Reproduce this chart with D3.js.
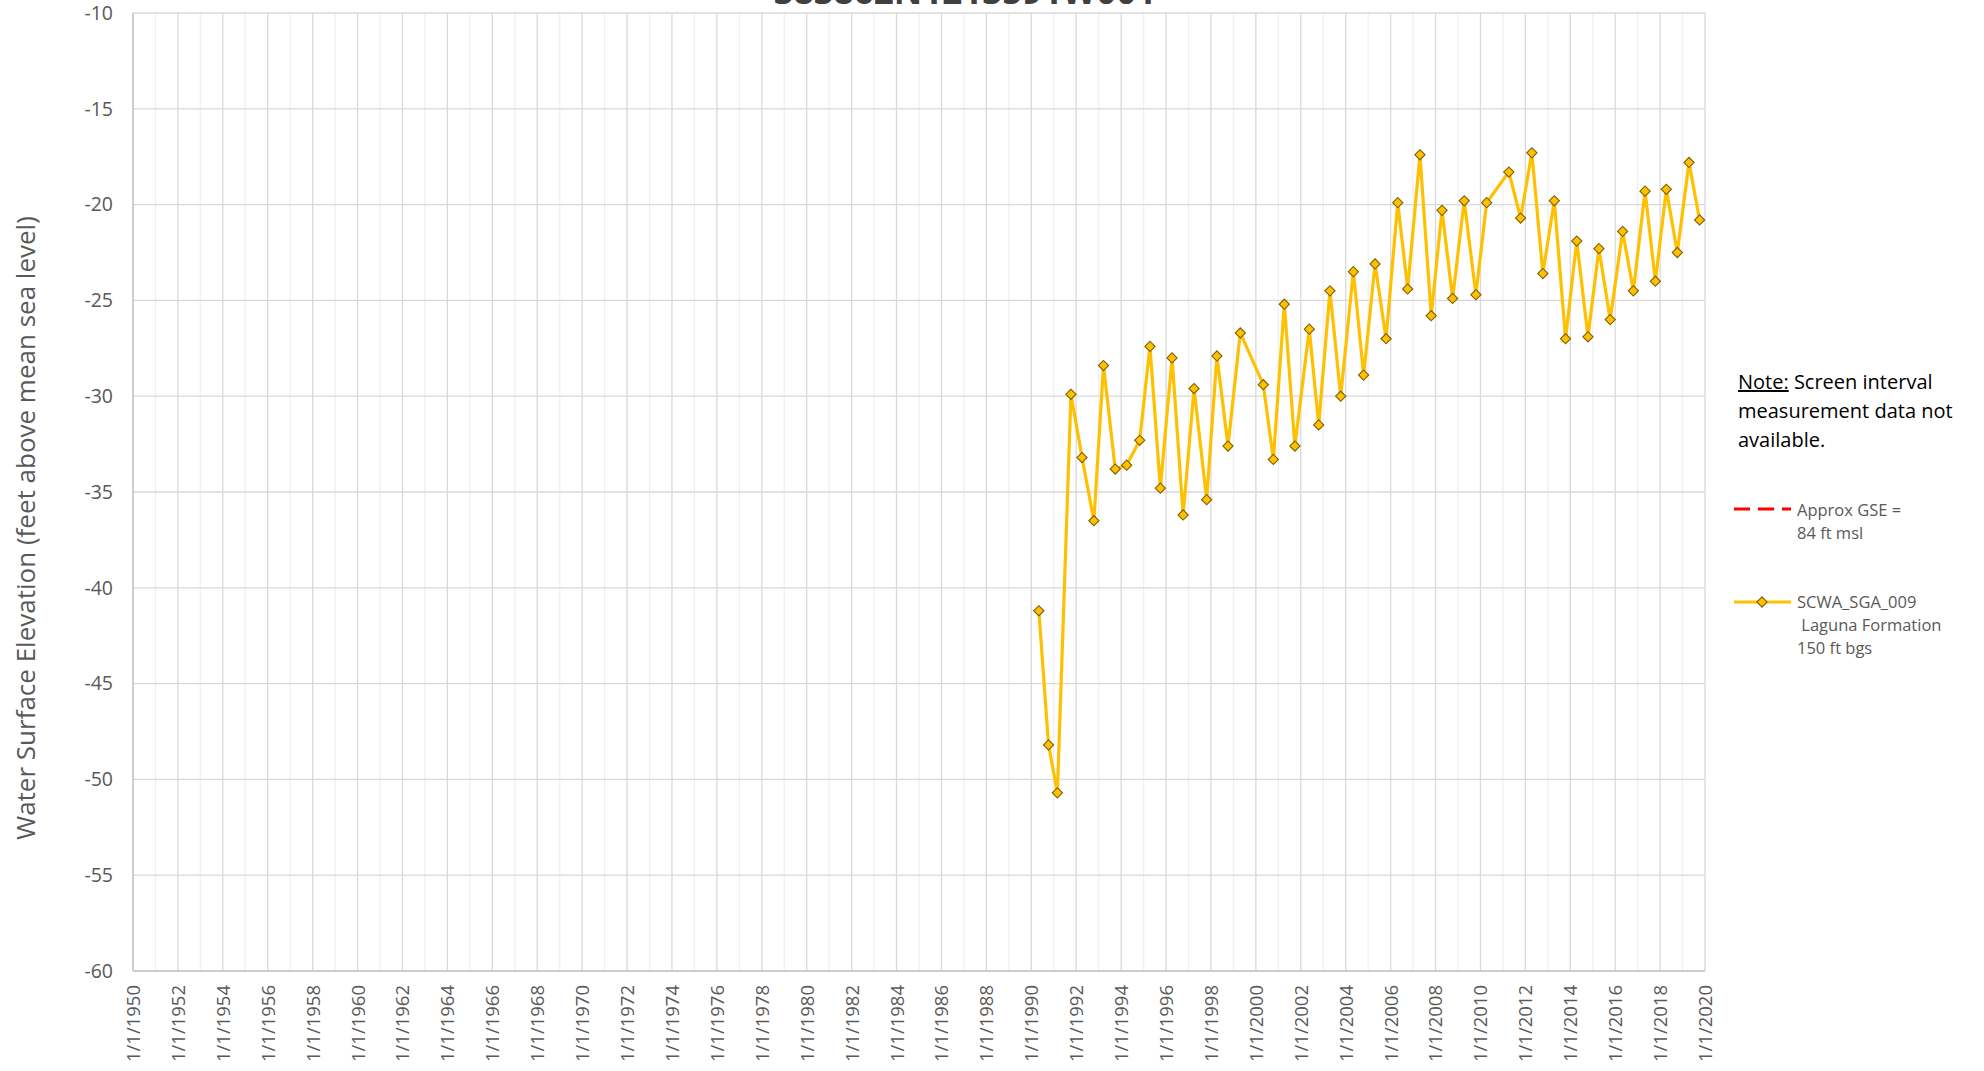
<!DOCTYPE html>
<html>
<head>
<meta charset="utf-8">
<script src="https://cdn.jsdelivr.net/npm/d3@7"></script>
<style>
body { margin: 0; background: #fff; }
svg text { font-family: "Open Sans", sans-serif; }
</style>
</head>
<body>
<div id="chart"></div>
<script>
// chart size
var w = 1984;
var h = 1071;
var plotLeft = 133, plotRight = 1705, plotTop = 13, plotBottom = 971;

// texts
var title = "383862N1213591W001";
var yTitle = "Water Surface Elevation (feet above mean sea level)";
var noteLines = ["Screen interval", "measurement data not", "available."];
var gseLabel = ["Approx GSE =", "84 ft msl"];
var wellLabel = ["SCWA_SGA_009", "\u00a0Laguna Formation", "150 ft bgs"];

// data
var dates = [
  "1990-05-04", "1990-10-08", "1991-03-01", "1991-10-08", "1992-04-05", "1992-10-15",
  "1993-03-20", "1993-09-27", "1994-04-01", "1994-10-30", "1995-04-15", "1995-10-01",
  "1996-04-08", "1996-10-05", "1997-04-01", "1997-10-23", "1998-04-08", "1998-10-05",
  "1999-04-23", "2000-05-01", "2000-10-12", "2001-04-08", "2001-09-27", "2002-05-19",
  "2002-10-19", "2003-04-20", "2003-10-12", "2004-05-05", "2004-10-19", "2005-04-23",
  "2005-10-19", "2006-04-27", "2006-10-05", "2007-04-23", "2007-10-23", "2008-04-16",
  "2008-10-05", "2009-04-12", "2009-10-19", "2010-04-12", "2011-04-08", "2011-10-16",
  "2012-04-16", "2012-10-12", "2013-04-16", "2013-10-16", "2014-04-16", "2014-10-16",
  "2015-04-12", "2015-10-12", "2016-05-01", "2016-10-23", "2017-05-01", "2017-10-16",
  "2018-04-12", "2018-10-08", "2019-04-16", "2019-10-05"
];
var levels = [
  -41.2, -48.2, -50.7, -29.9, -33.2, -36.5,
  -28.4, -33.8, -33.6, -32.3, -27.4, -34.8,
  -28.0, -36.2, -29.6, -35.4, -27.9, -32.6,
  -26.7, -29.4, -33.3, -25.2, -32.6, -26.5,
  -31.5, -24.5, -30.0, -23.5, -28.9, -23.1,
  -27.0, -19.9, -24.4, -17.4, -25.8, -20.3,
  -24.9, -19.8, -24.7, -19.9, -18.3, -20.7,
  -17.3, -23.6, -19.8, -27.0, -21.9, -26.9,
  -22.3, -26.0, -21.4, -24.5, -19.3, -24.0,
  -19.2, -22.5, -17.8, -20.8
];
var yTicks = [-10, -15, -20, -25, -30, -35, -40, -45, -50, -55, -60];
var xStart = "1950-01-01", xEnd = "2020-01-01";

var parse = d3.timeParse("%Y-%m-%d");
var points = dates.map(function (d, i) { return { date: parse(d), value: levels[i] }; });

var x = d3.scaleTime().domain([parse(xStart), parse(xEnd)]).range([plotLeft, plotRight]);
var y = d3.scaleLinear().domain([-60, -10]).range([plotBottom, plotTop]);

var svg = d3.select("#chart").append("svg")
  .attr("width", w)
  .attr("height", h);

// title (cut off at the top, as in the original)
svg.append("text")
  .attr("x", 965)
  .attr("y", 4)
  .attr("text-anchor", "middle")
  .attr("font-size", 35)
  .attr("font-weight", "bold")
  .attr("fill", "#404040")
  .text(title);

// grid
var minorYears = d3.timeYear.range(parse(xStart), d3.timeDay.offset(parse(xEnd), 1));
var majorYears = d3.timeYear.every(2).range(parse(xStart), d3.timeDay.offset(parse(xEnd), 1));

svg.append("g").selectAll("line")
  .data(minorYears.filter(function (d) { return d.getFullYear() % 2 === 1; }))
  .enter().append("line")
  .attr("x1", function (d) { return x(d); })
  .attr("x2", function (d) { return x(d); })
  .attr("y1", plotTop).attr("y2", plotBottom)
  .attr("stroke", "#f0f0f0").attr("stroke-width", 1.3);

svg.append("g").selectAll("line")
  .data(yTicks)
  .enter().append("line")
  .attr("x1", plotLeft).attr("x2", plotRight)
  .attr("y1", function (d) { return y(d); })
  .attr("y2", function (d) { return y(d); })
  .attr("stroke", "#d9d9d9").attr("stroke-width", 1.3);

svg.append("g").selectAll("line")
  .data(majorYears)
  .enter().append("line")
  .attr("x1", function (d) { return x(d); })
  .attr("x2", function (d) { return x(d); })
  .attr("y1", plotTop).attr("y2", plotBottom)
  .attr("stroke", "#d9d9d9").attr("stroke-width", 1.3);

// axis lines
svg.append("line")
  .attr("x1", plotLeft).attr("x2", plotLeft)
  .attr("y1", plotTop).attr("y2", plotBottom)
  .attr("stroke", "#c6c6c6").attr("stroke-width", 1.5);
svg.append("line")
  .attr("x1", plotLeft).attr("x2", plotRight)
  .attr("y1", plotBottom).attr("y2", plotBottom)
  .attr("stroke", "#c6c6c6").attr("stroke-width", 1.5);

// y axis labels (plain hyphen for the minus sign)
var yAxis = d3.axisLeft(y).tickValues(yTicks).tickSize(0).tickPadding(20)
  .tickFormat(function (d) { return String(d); });
var gy = svg.append("g")
  .attr("transform", "translate(" + plotLeft + ",0)")
  .call(yAxis);
gy.select(".domain").remove();
gy.selectAll("text")
  .attr("font-size", 19.5)
  .attr("fill", "#595959")
  .style("font-family", "'Open Sans', sans-serif");

// x axis labels
var xAxis = d3.axisBottom(x).tickValues(majorYears).tickSize(0)
  .tickFormat(d3.timeFormat("%-m/%-d/%Y"));
var gx = svg.append("g")
  .attr("transform", "translate(0," + plotBottom + ")")
  .call(xAxis);
gx.select(".domain").remove();
gx.selectAll("text")
  .attr("font-size", 18.5)
  .attr("fill", "#595959")
  .style("font-family", "'Open Sans', sans-serif")
  .attr("text-anchor", "end")
  .attr("dy", "0.35em")
  .attr("transform", "translate(0,14) rotate(-90)")
  .attr("y", 0)
  .attr("x", 0);

// y axis title
svg.append("text")
  .attr("transform", "translate(35,528) rotate(-90)")
  .attr("text-anchor", "middle")
  .attr("font-size", 26)
  .attr("fill", "#595959")
  .text(yTitle);

// series line
var line = d3.line()
  .x(function (d) { return x(d.date); })
  .y(function (d) { return y(d.value); });

svg.append("path")
  .datum(points)
  .attr("d", line)
  .attr("fill", "none")
  .attr("stroke", "#ffc000")
  .attr("stroke-width", 3.2)
  .attr("stroke-linejoin", "round");

var diamond = d3.symbol().type(d3.symbolSquare).size(52);

svg.append("g").selectAll("path")
  .data(points)
  .enter().append("path")
  .attr("d", diamond)
  .attr("transform", function (d) {
    return "translate(" + x(d.date) + "," + y(d.value) + ") rotate(45)";
  })
  .attr("fill", "#ffc000")
  .attr("stroke", "#7f6000")
  .attr("stroke-width", 1.1);

// note
var note = svg.append("text")
  .attr("x", 1738)
  .attr("y", 389)
  .attr("font-size", 20)
  .attr("fill", "#000");
note.append("tspan").attr("text-decoration", "underline").text("Note:");
note.append("tspan").text(" " + noteLines[0]);
noteLines.slice(1).forEach(function (t, i) {
  svg.append("text")
    .attr("x", 1738)
    .attr("y", 389 + (i + 1) * 29)
    .attr("font-size", 20)
    .attr("fill", "#000")
    .text(t);
});

// legend: GSE
svg.append("line")
  .attr("x1", 1734).attr("x2", 1791)
  .attr("y1", 509).attr("y2", 509)
  .attr("stroke", "#ff0000")
  .attr("stroke-width", 3)
  .attr("stroke-dasharray", "16,8");
gseLabel.forEach(function (t, i) {
  svg.append("text")
    .attr("x", 1797)
    .attr("y", 510 + i * 23)
    .attr("dy", "0.35em")
    .attr("font-size", 16.5)
    .attr("fill", "#595959")
    .text(t);
});

// legend: well
svg.append("line")
  .attr("x1", 1734).attr("x2", 1791)
  .attr("y1", 602).attr("y2", 602)
  .attr("stroke", "#ffc000")
  .attr("stroke-width", 3.2);
svg.append("path")
  .attr("d", diamond)
  .attr("transform", "translate(1762,602) rotate(45)")
  .attr("fill", "#ffc000")
  .attr("stroke", "#7f6000")
  .attr("stroke-width", 1.1);
wellLabel.forEach(function (t, i) {
  svg.append("text")
    .attr("x", 1797)
    .attr("y", 602 + i * 23)
    .attr("dy", "0.35em")
    .attr("font-size", 16.5)
    .attr("fill", "#595959")
    .text(t);
});
</script>
</body>
</html>
